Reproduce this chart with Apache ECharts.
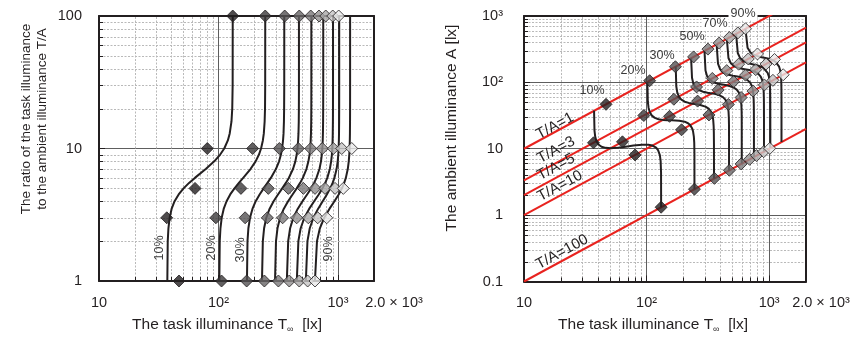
<!DOCTYPE html>
<html><head><meta charset="utf-8">
<script src="https://cdn.jsdelivr.net/npm/echarts@6/dist/echarts.min.js"></script>
<style>html,body{margin:0;padding:0;background:#fff}#c{width:858px;height:349px}</style>
</head><body><div id="c"></div>
<script>
// ---------- data ----------
const percentLabels = ['10%','20%','30%','40%','50%','60%','70%','80%','90%'];
// ratio T/A levels at which the fitted curves were read
const ratioLevels = [1, 2, 2.5, 3, 3.5, 4, 4.5, 5, 5.5, 6, 7, 8, 9, 10, 11.5, 13, 16, 20, 30, 100];
// task illuminance T [lx] of each fitted curve at those ratio levels
const curve10 = [37.3, 37.6, 38.1, 39.0, 40.5, 42.9, 46.4, 51.0, 56.7, 63.4, 78.2, 92.1, 103.3, 111.7, 119.7, 124.1, 128.4, 130.3, 131.3, 131.5];
const curve20 = [101.6, 102.4, 103.8, 106.3, 110.5, 116.8, 125.3, 136.1, 148.1, 160.9, 185.2, 204.5, 218, 227, 235, 239.4, 243.2, 245, 245.8, 246];
const curve30 = [173, 174.8, 177.8, 183.4, 192.3, 204.8, 220.8, 238.7, 256.8, 274.2, 302.2, 321.2, 333, 340.5, 346.7, 350, 352.7, 354, 354.8, 355];
const curve40 = [231, 234.9, 240.7, 251.1, 267.3, 289.1, 314.6, 341.2, 366, 387.7, 420.1, 439.5, 451, 458.1, 463.7, 466.7, 469.4, 470.4, 471, 471];
const curve50 = [297, 302.7, 311.5, 327.3, 351.3, 382.1, 416.6, 451, 481.7, 507.6, 544.1, 565.4, 577.8, 585.1, 590.8, 593.9, 596.5, 597.6, 598, 598];
const curve60 = [373, 382.8, 397.3, 422.8, 459.6, 504.3, 551.2, 595.1, 631, 660, 698.9, 720.3, 732, 739.1, 744.7, 747.5, 750, 751.1, 752, 752];
const curve70 = [452, 465.9, 486.9, 522.7, 573.2, 631.6, 689.5, 741, 782, 813.6, 854.3, 876, 888.4, 895.2, 901, 903.7, 906.2, 907.3, 908, 908];
const curve80 = [538, 554.9, 580.1, 622.5, 680.1, 744.6, 806.4, 859.9, 901.2, 932.9, 972.8, 993.6, 1005, 1011.6, 1016.7, 1019.3, 1021.6, 1022.6, 1023, 1023];
const curve90 = [641, 666.8, 704.7, 766, 847, 933.4, 1012.7, 1077.7, 1126, 1162.7, 1206.8, 1229.8, 1242.3, 1249.2, 1255, 1257.9, 1260.3, 1261.4, 1262, 1262];
// measured points: T [lx] at ratio T/A = 1, 3, 5, 10, 100
const markerRatios = [1, 3, 5, 10, 100];
const marker10 = [46.7, 36.9, 63.6, 80.6, 131.5];
const marker20 = [106, 95, 154, 193, 246];
const marker30 = [172, 167, 261, 323, 358];
const marker40 = [242, 256, 384, 465, 474];
const marker50 = [317, 344, 513, 591, 591];
const marker60 = [391, 451, 642, 739, 693];
const marker70 = [474, 564, 778, 914, 789];
const marker80 = [557, 676, 944, 1074, 903];
const marker90 = [642, 804, 1107, 1303, 1013];
// constant-ratio reference lines (right chart)
const diagonalRatios = [1, 3, 5, 10, 100];
const diagonalLabels = ['T/A=1', 'T/A=3', 'T/A=5', 'T/A=10', 'T/A=100'];
// axes
const xRange = [10, 2000];
const leftYRange = [1, 100];
const rightYRange = [0.1, 1000];
const xMinor = [20, 30, 40, 50, 60, 70, 80, 90, 200, 300, 400, 500, 600, 700, 800, 900];
const leftYMinor = [2, 3, 4, 5, 6, 7, 8, 9, 20, 30, 40, 50, 60, 70, 80, 90];
const rightYMinor = [0.2, 0.3, 0.4, 0.5, 0.6, 0.7, 0.8, 0.9, 2, 3, 4, 5, 6, 7, 8, 9,
  20, 30, 40, 50, 60, 70, 80, 90, 200, 300, 400, 500, 600, 700, 800, 900];
const xTickText = {'1': '10', '2': '10²', '3': '10³'};
const leftYTickText = {'0': '1', '1': '10', '2': '100'};
const rightYTickText = {'-1': '0.1', '0': '1', '1': '10', '2': '10²', '3': '10³'};
const xEndLabel = '2.0 × 10³';

const curves = [curve10, curve20, curve30, curve40, curve50, curve60, curve70, curve80, curve90];
const markers = [marker10, marker20, marker30, marker40, marker50, marker60, marker70, marker80, marker90];

// ---------- styles ----------
const FONT = '"Liberation Sans", Arial, Helvetica, sans-serif';
const INK = '#231f20';
const RED = '#e8231f';
const markerFills = ['#231f20', '#3b3839', '#545152', '#686566', '#7c797a', '#929090', '#a9a7a7', '#c6c4c4', '#e9e8e8'];

function tickKey(v) { return String(Math.round(Math.log10(v) * 100) / 100); }

const chart = echarts.init(document.getElementById('c'), null, {renderer: 'canvas'});

function bottomAxis(gi) {
  return {
    type: 'log', logBase: 10, gridIndex: gi, min: xRange[0], max: xRange[1],
    axisLine: {show: true, lineStyle: {color: INK, width: 2}},
    axisTick: {show: true, inside: true, length: 6, lineStyle: {color: INK, width: 1}},
    axisLabel: {show: true, margin: 14, color: INK, fontFamily: FONT, fontSize: 14.5,
      formatter: v => xTickText[tickKey(v)] || ''},
    splitLine: {show: true, lineStyle: {color: '#5e5e5e', width: 1}},
    minorTick: {show: false}, minorSplitLine: {show: false}
  };
}
function frameAxisX(gi) {
  return {type: 'log', logBase: 10, gridIndex: gi, position: 'top', min: xRange[0], max: xRange[1],
    axisLine: {show: true, lineStyle: {color: INK, width: 2}}, axisTick: {show: false},
    axisLabel: {show: false}, splitLine: {show: false}};
}
function leftAxis(gi, range, texts, margin) {
  return {
    type: 'log', logBase: 10, gridIndex: gi, min: range[0], max: range[1],
    axisLine: {show: true, lineStyle: {color: INK, width: 2}},
    axisTick: {show: true, inside: true, length: 6, lineStyle: {color: INK, width: 1}},
    axisLabel: {show: true, margin: margin, color: INK, fontFamily: FONT, fontSize: 14.5,
      formatter: v => texts[tickKey(v)] || ''},
    splitLine: {show: true, lineStyle: {color: '#5e5e5e', width: 1}}
  };
}
function frameAxisY(gi, range) {
  return {type: 'log', logBase: 10, gridIndex: gi, position: 'right', min: range[0], max: range[1],
    axisLine: {show: true, lineStyle: {color: INK, width: 2}}, axisTick: {show: false},
    axisLabel: {show: false}, splitLine: {show: false}};
}

// minor grid lines + inward minor ticks, positioned through the axes
function gridRender(params, api) {
  const cs = params.coordSys;
  const p = api.coord([api.value(0), api.value(1)]);
  const vertical = api.value(2) === 0;
  const dash = {stroke: '#b9b9b9', lineWidth: 1, lineDash: [2, 1.5]};
  const tick = {stroke: INK, lineWidth: 1};
  if (vertical) {
    const x = Math.round(p[0]) + 0.5;
    return {type: 'group', children: [
      {type: 'line', shape: {x1: x, y1: cs.y + 1, x2: x, y2: cs.y + cs.height - 1}, style: dash},
      {type: 'line', shape: {x1: x, y1: cs.y + cs.height, x2: x, y2: cs.y + cs.height - 4}, style: tick}
    ]};
  }
  const y = Math.round(p[1]) + 0.5;
  return {type: 'group', children: [
    {type: 'line', shape: {x1: cs.x + 1, y1: y, x2: cs.x + cs.width - 1, y2: y}, style: dash},
    {type: 'line', shape: {x1: cs.x, y1: y, x2: cs.x + 4, y2: y}, style: tick}
  ]};
}
function gridData(yRange, yMinor) {
  const d = [];
  xMinor.forEach(v => d.push([v, yRange[0], 0]));
  yMinor.forEach(v => d.push([xRange[0], v, 1]));
  return d;
}

const series = [];
series.push({type: 'custom', xAxisIndex: 0, yAxisIndex: 0, renderItem: gridRender, silent: true, z: 1,
  data: gridData(leftYRange, leftYMinor), clip: false});
series.push({type: 'custom', xAxisIndex: 1, yAxisIndex: 1, renderItem: gridRender, silent: true, z: 1,
  data: gridData(rightYRange, rightYMinor), clip: false});

diagonalRatios.forEach(k => {
  series.push({type: 'line', xAxisIndex: 1, yAxisIndex: 1, silent: true, z: 2, clip: true,
    symbol: 'none', lineStyle: {color: RED, width: 2},
    data: [[xRange[0], xRange[0] / k], [xRange[1], xRange[1] / k]]});
});

curves.forEach((c, i) => {
  series.push({type: 'line', name: percentLabels[i], xAxisIndex: 0, yAxisIndex: 0, z: 3, silent: true,
    symbol: 'none', smooth: false, lineStyle: {color: INK, width: 2, join: 'round'},
    data: ratioLevels.map((r, j) => [c[j], r])});
  series.push({type: 'line', name: percentLabels[i], xAxisIndex: 1, yAxisIndex: 1, z: 3, silent: true,
    symbol: 'none', smooth: false, lineStyle: {color: INK, width: 2, join: 'round'},
    data: ratioLevels.map((r, j) => [c[j], c[j] / r])});
});

markers.forEach((m, i) => {
  const st = {color: markerFills[i], borderColor: INK, borderWidth: 1};
  series.push({type: 'scatter', xAxisIndex: 0, yAxisIndex: 0, z: 4, silent: true, clip: false,
    symbol: 'diamond', symbolSize: 12, itemStyle: st,
    data: markerRatios.map((r, j) => [m[j], r])});
  series.push({type: 'scatter', xAxisIndex: 1, yAxisIndex: 1, z: 4, silent: true, clip: false,
    symbol: 'diamond', symbolSize: 12, itemStyle: st,
    data: markerRatios.map((r, j) => [m[j], m[j] / r])});
});

const txt = (x, y, text, size, opts) => Object.assign({
  type: 'text', x: x, y: y, z: 100,
  style: Object.assign({text: text, font: size + 'px ' + FONT, fill: INK, align: 'center', verticalAlign: 'middle'}, (opts && opts.style) || {})
}, (opts && opts.el) || {});

const xTitleRich = {
  a: {fontFamily: FONT, fontSize: 15.5, fill: INK, lineHeight: 18},
  s: {fontFamily: FONT, fontSize: 9, fill: INK, lineHeight: 18, verticalAlign: 'bottom', padding: [6, 0, 0, 0]}
};
const slope = Math.atan(66.6 / 122.5);

const graphic = [
  // axis titles
  {type: 'text', x: 227, y: 325, z: 100, style: {text: '{a|The task illuminance T}{s|∞}{a|  [lx]}', rich: xTitleRich, align: 'center', verticalAlign: 'middle'}},
  {type: 'text', x: 653, y: 325, z: 100, style: {text: '{a|The task illuminance T}{s|∞}{a|  [lx]}', rich: xTitleRich, align: 'center', verticalAlign: 'middle'}},
  txt(34, 119, 'The ratio of the task illuminance\nto the ambient illuminance T/A', 13.5, {el: {rotation: Math.PI / 2}, style: {lineHeight: 16}}),
  txt(452, 128, 'The ambient illuminance A [lx]', 15.5, {el: {rotation: Math.PI / 2}}),
  // extra x tick label at the axis end
  txt(394, 303, xEndLabel, 14.5),
  txt(821, 303, xEndLabel, 14.5),
  // curve labels, left chart
  txt(160, 248, percentLabels[0], 12.5, {el: {rotation: Math.PI / 2}, style: {fill: '#3a3a3a'}}),
  txt(212, 248, percentLabels[1], 12.5, {el: {rotation: Math.PI / 2}, style: {fill: '#3a3a3a'}}),
  txt(241, 250, percentLabels[2], 12.5, {el: {rotation: Math.PI / 2}, style: {fill: '#3a3a3a'}}),
  txt(329, 249, percentLabels[8], 12.5, {el: {rotation: Math.PI / 2}, style: {fill: '#3a3a3a'}}),
  // curve labels, right chart
  txt(592, 91, percentLabels[0], 12.5, {style: {fill: '#3a3a3a'}}),
  txt(633, 71, percentLabels[1], 12.5, {style: {fill: '#3a3a3a'}}),
  txt(662, 56, percentLabels[2], 12.5, {style: {fill: '#3a3a3a'}}),
  txt(692, 37, percentLabels[4], 12.5, {style: {fill: '#3a3a3a'}}),
  txt(715, 24, percentLabels[6], 12.5, {style: {fill: '#3a3a3a', backgroundColor: '#fff', padding: [0, 1]}}),
  txt(743, 14, percentLabels[8], 12.5, {style: {fill: '#3a3a3a', backgroundColor: '#fff', padding: [0, 2]}}),
  // reference line labels
  txt(555, 126, diagonalLabels[0], 15, {el: {rotation: slope}}),
  txt(556, 150, diagonalLabels[1], 15, {el: {rotation: slope}}),
  txt(556, 167, diagonalLabels[2], 15, {el: {rotation: slope}}),
  txt(560, 186, diagonalLabels[3], 15, {el: {rotation: slope}}),
  txt(562, 252, diagonalLabels[4], 15, {el: {rotation: slope}})
];

chart.setOption({
  animation: false,
  backgroundColor: '#fff',
  grid: [
    {left: 99, right: 484, top: 16, bottom: 68},
    {left: 524, right: 52, top: 16, bottom: 67.5}
  ],
  xAxis: [bottomAxis(0), bottomAxis(1), frameAxisX(0), frameAxisX(1)],
  yAxis: [leftAxis(0, leftYRange, leftYTickText, 17), leftAxis(1, rightYRange, rightYTickText, 21),
          frameAxisY(0, leftYRange), frameAxisY(1, rightYRange)],
  series: series,
  graphic: graphic
});
</script>
</body></html>
